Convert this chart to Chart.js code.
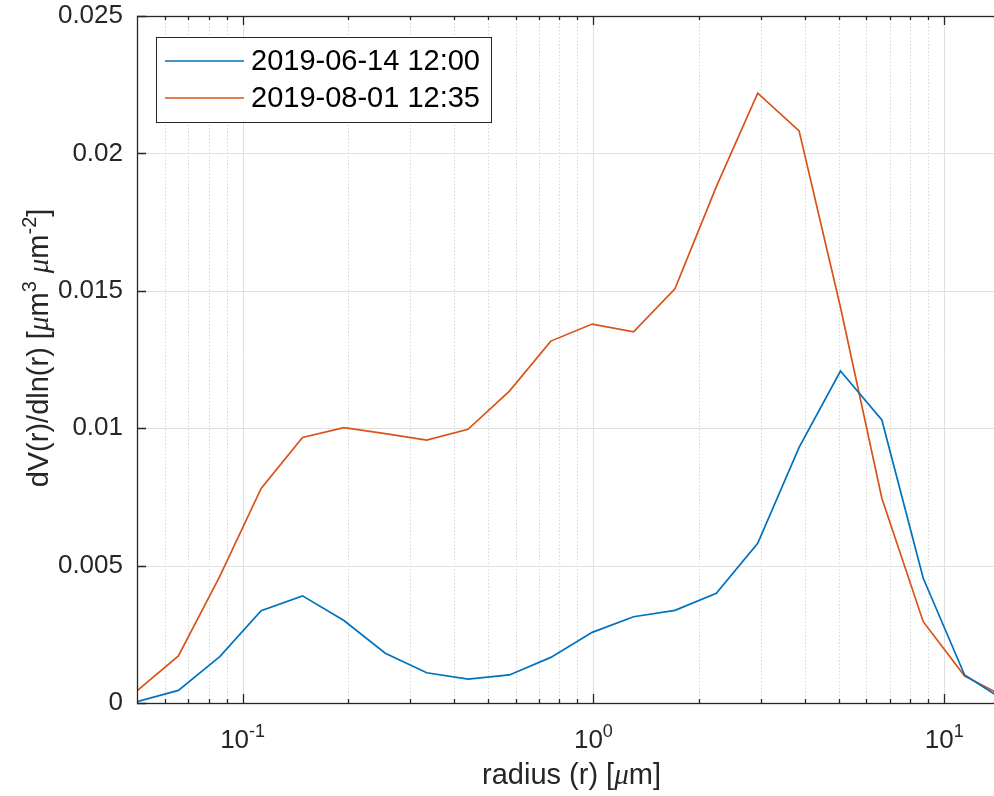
<!DOCTYPE html>
<html>
<head>
<meta charset="utf-8">
<title>Volume size distribution</title>
<script src="https://cdn.jsdelivr.net/npm/chart.js@4/dist/chart.umd.min.js"></script>
<style>
    html, body { margin: 0; padding: 0; background: #fff; overflow: hidden; }
    #wrap { position: relative; width: 1010px; height: 796px; }
</style>
</head>
<body>
<div id="wrap"><canvas id="psd-chart"></canvas></div>
<script>
// data - radius bins (um) and dV/dln(r) for the two days

const radius = [0.05, 0.065604, 0.086077, 0.112939, 0.148184, 0.194429, 0.255105, 0.334716,
    0.439173, 0.576227, 0.756052, 0.991996, 1.301571, 1.707757, 2.240702, 2.939966,
    3.857452, 5.06126, 6.640745, 8.713145, 11.432287, 15.0];

const june = [0.00005, 0.00046, 0.00169, 0.00336, 0.0039, 0.003, 0.00181, 0.0011,
    0.00087, 0.00102, 0.00166, 0.00257, 0.00314, 0.00337, 0.00399, 0.00581,
    0.0093, 0.01208, 0.0103, 0.00454, 0.00102, 0.00005];

const august = [0.00044, 0.00171, 0.00461, 0.00781, 0.00966, 0.01002, 0.0098, 0.00957,
    0.00996, 0.01135, 0.01317, 0.01379, 0.01351, 0.01507, 0.01879, 0.02219,
    0.02082, 0.0144, 0.00745, 0.00296, 0.00098, 0.0002];

const seriesLabels = ['2019-06-14 12:00', '2019-08-01 12:35'];

const yTicks = [0, 0.005, 0.01, 0.015, 0.02, 0.025];
const yTickLabels = ['0', '0.005', '0.01', '0.015', '0.02', '0.025'];
const xDecades = [0.1, 1, 10];
const xDecadeExp = ['-1', '0', '1'];

const AXIS = '#262626';
const FONT = "Arial, 'Liberation Sans', Helvetica, sans-serif";
const MU_FONT = "'Liberation Serif', 'DejaVu Serif', serif";

function toPoints(xs, ys) {
    return xs.map((x, i) => ({ x: x, y: ys[i] }));
}

// minor tick positions 2..9 x 10^n inside the axis range
function minorTicks(min, max) {
    const out = [];
    for (let e = -2; e <= 1; e++) {
        for (let k = 2; k <= 9; k++) {
            const v = k * Math.pow(10, e);
            if (v > min * 1.0001 && v < max * 0.9999) out.push(v);
        }
    }
    return out;
}

// text with superscripts / italic parts, drawn left to right
function partFont(p, size) {
    const s = p.sup ? Math.round(size * 0.7) : size;
    if (p.mu) return 'italic ' + s + 'px ' + MU_FONT;
    return s + 'px ' + FONT;
}

function richWidth(ctx, parts, size) {
    let w = 0;
    parts.forEach(p => {
        ctx.font = partFont(p, size);
        w += ctx.measureText(p.t).width;
    });
    return w;
}

function drawRich(ctx, parts, x, y, size) {
    let cx = x;
    ctx.textAlign = 'left';
    ctx.textBaseline = 'alphabetic';
    parts.forEach(p => {
        ctx.font = partFont(p, size);
        const dy = p.sup ? -size * 0.42 : 0;
        ctx.fillText(p.t, cx, y + dy);
        cx += ctx.measureText(p.t).width;
    });
}

const xTitle = [{ t: 'radius (r) [' }, { t: '\u03bc', mu: true }, { t: 'm]' }];
const yTitle = [{ t: 'dV(r)/dln(r) [' }, { t: '\u03bc', mu: true }, { t: 'm' }, { t: '3', sup: true },
    { t: ' ' }, { t: '\u03bc', mu: true }, { t: 'm' }, { t: '-2', sup: true }, { t: ']' }];

// MATLAB-like axes: grid, box, inward ticks, labels, legend
const matlabAxes = {
    id: 'matlabAxes',
    beforeDatasetsDraw(chart) {
        const ctx = chart.ctx;
        const a = chart.chartArea;
        const xs = chart.scales.x;
        const ys = chart.scales.y;
        ctx.save();
        ctx.lineWidth = 1;

        // minor x grid (dotted)
        ctx.strokeStyle = '#d6d6d6';
        ctx.setLineDash([1.5, 2]);
        minorTicks(xs.min, xs.max).forEach(v => {
            const px = Math.round(xs.getPixelForValue(v)) + 0.5;
            ctx.beginPath();
            ctx.moveTo(px, a.top);
            ctx.lineTo(px, a.bottom);
            ctx.stroke();
        });

        // major grid (solid)
        ctx.setLineDash([]);
        ctx.strokeStyle = '#e0e0e0';
        xDecades.forEach(v => {
            const px = Math.round(xs.getPixelForValue(v)) + 0.5;
            ctx.beginPath();
            ctx.moveTo(px, a.top);
            ctx.lineTo(px, a.bottom);
            ctx.stroke();
        });
        yTicks.forEach(v => {
            const py = Math.round(ys.getPixelForValue(v)) + 0.5;
            ctx.beginPath();
            ctx.moveTo(a.left, py);
            ctx.lineTo(a.right, py);
            ctx.stroke();
        });
        ctx.restore();
    },
    afterDatasetsDraw(chart) {
        const ctx = chart.ctx;
        const a = chart.chartArea;
        const xs = chart.scales.x;
        const ys = chart.scales.y;
        ctx.save();
        ctx.strokeStyle = AXIS;
        ctx.fillStyle = AXIS;
        ctx.lineWidth = 1.3;

        // box
        ctx.strokeRect(Math.round(a.left) + 0.5, Math.round(a.top) + 0.5,
            Math.round(a.right - a.left), Math.round(a.bottom - a.top));

        // ticks pointing inward, top and bottom
        const tick = (px, len) => {
            ctx.beginPath();
            ctx.moveTo(px, a.bottom);
            ctx.lineTo(px, a.bottom - len);
            ctx.moveTo(px, a.top);
            ctx.lineTo(px, a.top + len);
            ctx.stroke();
        };
        minorTicks(xs.min, xs.max).forEach(v => tick(Math.round(xs.getPixelForValue(v)) + 0.5, 4));
        xDecades.forEach(v => tick(Math.round(xs.getPixelForValue(v)) + 0.5, 9));
        yTicks.forEach(v => {
            const py = Math.round(ys.getPixelForValue(v)) + 0.5;
            ctx.beginPath();
            ctx.moveTo(a.left, py);
            ctx.lineTo(a.left + 9, py);
            ctx.moveTo(a.right, py);
            ctx.lineTo(a.right - 9, py);
            ctx.stroke();
        });

        // x tick labels 10^n
        xDecades.forEach((v, i) => {
            const parts = [{ t: '10' }, { t: xDecadeExp[i], sup: true }];
            const w = richWidth(ctx, parts, 26);
            const px = xs.getPixelForValue(v);
            drawRich(ctx, parts, px - w / 2, 748, 26);
        });

        // axis titles
        const tw = richWidth(ctx, xTitle, 29);
        drawRich(ctx, xTitle, (a.left + a.right) / 2 - tw / 2, 784, 29);

        const yw = richWidth(ctx, yTitle, 29);
        ctx.save();
        ctx.translate(48, 348);
        ctx.rotate(-Math.PI / 2);
        drawRich(ctx, yTitle, -yw / 2, 0, 29);
        ctx.restore();

        // legend box
        const lx = 156, ly = 37, lw = 335, lh = 85;
        ctx.fillStyle = '#ffffff';
        ctx.fillRect(lx, ly, lw, lh);
        ctx.lineWidth = 1;
        ctx.strokeStyle = AXIS;
        ctx.strokeRect(lx + 0.5, ly + 0.5, lw, lh);
        chart.data.datasets.forEach((ds, i) => {
            const yy = 61 + i * 37;
            ctx.strokeStyle = ds.borderColor;
            ctx.lineWidth = ds.borderWidth;
            ctx.beginPath();
            ctx.moveTo(165, yy);
            ctx.lineTo(244, yy);
            ctx.stroke();
            ctx.fillStyle = '#000000';
            ctx.font = '29px ' + FONT;
            ctx.textAlign = 'left';
            ctx.textBaseline = 'middle';
            ctx.fillText(ds.label, 251, yy + 1);
        });
        ctx.restore();
    }
};

const psdCanvas = document.getElementById('psd-chart');

let psdChart = new Chart(psdCanvas, {
    type: 'line',
    data: {
        datasets: [{
            label: seriesLabels[0],
            data: toPoints(radius, june),
            borderColor: '#0072BD',
            borderWidth: 1.7,
            pointRadius: 0,
            tension: 0
        }, {
            label: seriesLabels[1],
            data: toPoints(radius, august),
            borderColor: '#D95319',
            borderWidth: 1.7,
            pointRadius: 0,
            tension: 0
        }]
    },
    options: {
        responsive: true,
        maintainAspectRatio: false,
        animation: false,
        events: [],
        layout: {
            padding: { left: 0, top: 16, right: 4, bottom: 0 }
        },
        scales: {
            x: {
                type: 'logarithmic',
                min: 0.05,
                max: 15,
                grid: { display: false, drawTicks: false },
                border: { display: false },
                ticks: { display: false },
                afterFit: s => { s.height = 93; s.paddingLeft = 0; s.paddingRight = 0; }
            },
            y: {
                type: 'linear',
                min: 0,
                max: 0.025,
                grid: { display: false, drawTicks: false },
                border: { display: false },
                afterBuildTicks: s => { s.ticks = yTicks.map(v => ({ value: v })); },
                ticks: {
                    padding: 14,
                    color: AXIS,
                    font: { family: FONT, size: 26 },
                    callback: (value) => {
                        const i = yTicks.findIndex(t => Math.abs(t - value) < 1e-9);
                        return i >= 0 ? yTickLabels[i] : '';
                    }
                },
                afterFit: s => { s.width = 137; s.paddingTop = 0; s.paddingBottom = 0; }
            }
        },
        plugins: {
            legend: { display: false },
            tooltip: { enabled: false }
        }
    },
    plugins: [matlabAxes]
});
</script>
</body>
</html>
